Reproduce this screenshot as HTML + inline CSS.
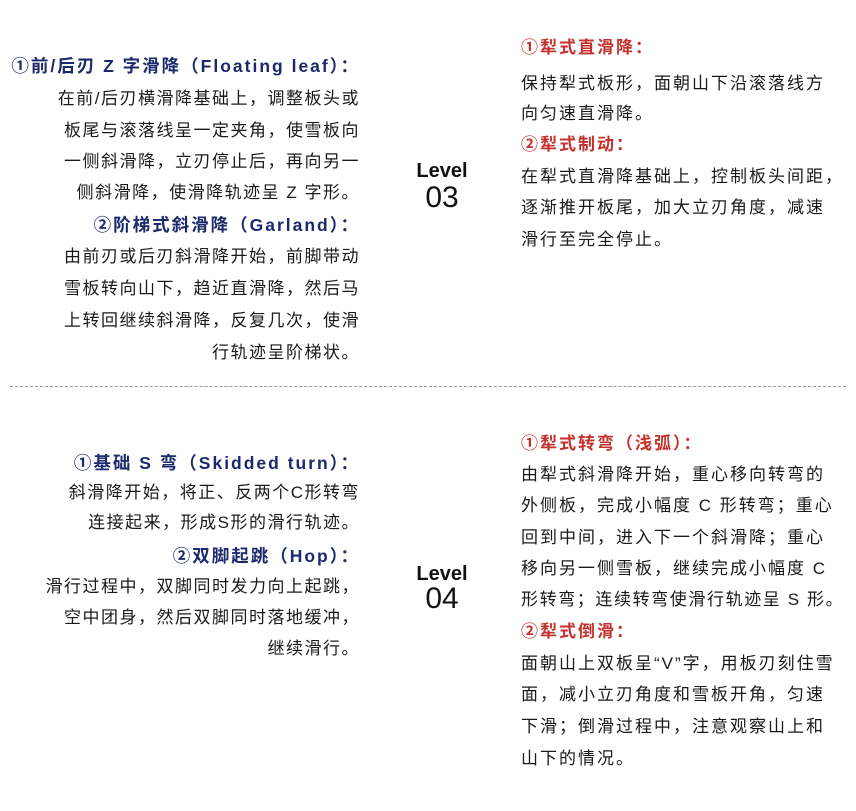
<!DOCTYPE html>
<html><head><meta charset="utf-8"><style>
html,body{margin:0;padding:0;background:#fff;}
body{width:856px;height:811px;position:relative;overflow:hidden;font-family:"Liberation Sans","Noto Sans CJK SC",sans-serif;color:#1a1a1a;}
.l{position:absolute;white-space:nowrap;font-size:17px;line-height:22px;letter-spacing:1.5px;}
.r{right:496px;text-align:right;}
.rt{left:521px;letter-spacing:2px;}
.nb{color:#1c2a6b;font-weight:bold;letter-spacing:2px;font-size:17.5px;}
.rd{color:#c4312c;font-weight:bold;}
.lv{position:absolute;left:400px;width:84px;text-align:center;color:#111;}
.dash{position:absolute;left:10px;right:10px;top:386px;border-top:1.5px dashed #999;}
</style></head><body>
<div class="l r nb" style="top:55px">①前/后刃 Z 字滑降（Floating leaf）：</div>
<div class="l r" style="top:88px">在前/后刃横滑降基础上，调整板头或</div>
<div class="l r" style="top:120px">板尾与滚落线呈一定夹角，使雪板向</div>
<div class="l r" style="top:151px">一侧斜滑降，立刃停止后，再向另一</div>
<div class="l r" style="top:182px">侧斜滑降，使滑降轨迹呈 Z 字形。</div>
<div class="l r nb" style="top:214px">②阶梯式斜滑降（Garland）：</div>
<div class="l r" style="top:246px">由前刃或后刃斜滑降开始，前脚带动</div>
<div class="l r" style="top:278px">雪板转向山下，趋近直滑降，然后马</div>
<div class="l r" style="top:310px">上转回继续斜滑降，反复几次，使滑</div>
<div class="l r" style="top:342px">行轨迹呈阶梯状。</div>

<div class="lv" style="top:160px;font-size:20px;font-weight:bold;">Level</div>
<div class="lv" style="top:181px;font-size:30px;">03</div>

<div class="l rt rd" style="top:37px">①犁式直滑降：</div>
<div class="l rt" style="top:73px">保持犁式板形，面朝山下沿滚落线方</div>
<div class="l rt" style="top:103px">向匀速直滑降。</div>
<div class="l rt rd" style="top:134px">②犁式制动：</div>
<div class="l rt" style="top:166px">在犁式直滑降基础上，控制板头间距，</div>
<div class="l rt" style="top:197px">逐渐推开板尾，加大立刃角度，减速</div>
<div class="l rt" style="top:229px">滑行至完全停止。</div>

<div class="dash"></div>

<div class="l r nb" style="top:452px">①基础 S 弯（Skidded turn）：</div>
<div class="l r" style="top:482px">斜滑降开始，将正、反两个C形转弯</div>
<div class="l r" style="top:512px">连接起来，形成S形的滑行轨迹。</div>
<div class="l r nb" style="top:545px">②双脚起跳（Hop）：</div>
<div class="l r" style="top:576px">滑行过程中，双脚同时发力向上起跳，</div>
<div class="l r" style="top:607px">空中团身，然后双脚同时落地缓冲，</div>
<div class="l r" style="top:638px">继续滑行。</div>

<div class="lv" style="top:563px;font-size:20px;font-weight:bold;">Level</div>
<div class="lv" style="top:582px;font-size:30px;">04</div>

<div class="l rt rd" style="top:433px">①犁式转弯（浅弧）：</div>
<div class="l rt" style="top:464px">由犁式斜滑降开始，重心移向转弯的</div>
<div class="l rt" style="top:495px">外侧板，完成小幅度 C 形转弯；重心</div>
<div class="l rt" style="top:527px">回到中间，进入下一个斜滑降；重心</div>
<div class="l rt" style="top:558px">移向另一侧雪板，继续完成小幅度 C</div>
<div class="l rt" style="top:589px;letter-spacing:1.6px">形转弯；连续转弯使滑行轨迹呈 S 形。</div>
<div class="l rt rd" style="top:621px">②犁式倒滑：</div>
<div class="l rt" style="top:653px">面朝山上双板呈“V”字，用板刃刻住雪</div>
<div class="l rt" style="top:684px">面，减小立刃角度和雪板开角，匀速</div>
<div class="l rt" style="top:716px">下滑；倒滑过程中，注意观察山上和</div>
<div class="l rt" style="top:748px">山下的情况。</div>
</body></html>
